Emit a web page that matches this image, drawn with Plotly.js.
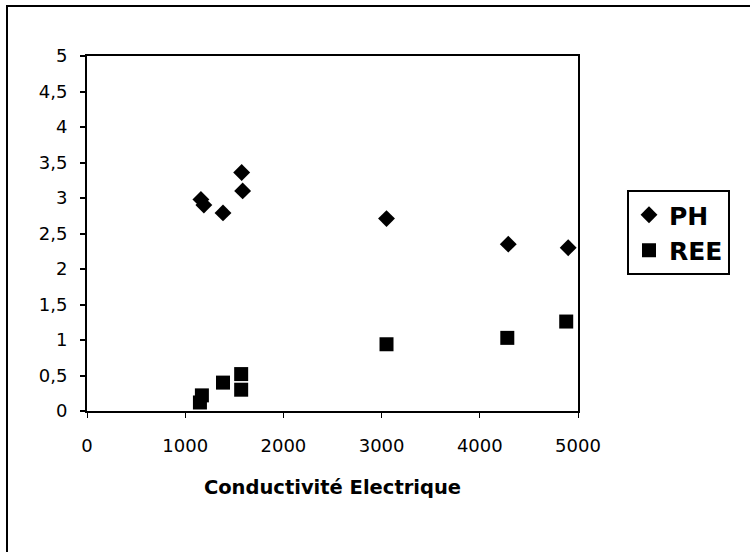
<!DOCTYPE html>
<html>
<head>
<meta charset="utf-8">
<script src="https://cdn.plot.ly/plotly-3.0.1.min.js"></script>
<style>
html,body{margin:0;padding:0;background:#fff;}
#chart{width:750px;height:552px;}
</style>
</head>
<body>
<div id="chart"></div>
<script>
// Data
const phX  = [1160, 1190, 1385, 1575, 1585, 3050, 4290, 4900];
const phY  = [2.98, 2.90, 2.79, 3.36, 3.10, 2.71, 2.35, 2.30];
const reeX = [1150, 1170, 1385, 1570, 1570, 3050, 4280, 4880];
const reeY = [0.12, 0.22, 0.40, 0.52, 0.30, 0.94, 1.03, 1.26];
const seriesNames = ["PH", "REE"];
const xTicks = [0, 1000, 2000, 3000, 4000, 5000];
const yTicks = [0, 0.5, 1, 1.5, 2, 2.5, 3, 3.5, 4, 4.5, 5];

const traces = [
  {x: phX, y: phY, name: seriesNames[0], type: "scatter", mode: "markers", legendgroup: "a",
   marker: {symbol: "diamond", size: 13, color: "#000"}},
  {x: reeX, y: reeY, name: seriesNames[1], type: "scatter", mode: "markers", legendgroup: "b",
   marker: {symbol: "square", size: 14, color: "#000"}}
];

const W = 750, H = 552, L = 87, R = 172, T = 56, B = 141;
const pw = W - L - R, ph = H - T - B;
const px = v => (v - L) / pw;         // pixel -> paper x
const py = v => (H - B - v) / ph;     // pixel -> paper y

const FONT = "DejaVu Sans, sans-serif";

const layout = {
  width: W, height: H,
  margin: {l: L, r: R, t: T, b: B, pad: 0},
  paper_bgcolor: "#fff", plot_bgcolor: "#fff",
  separators: ", ",
  font: {family: FONT, size: 18, color: "#000"},
  showlegend: true,
  legend: {
    x: px(627), y: py(190), xanchor: "left", yanchor: "top",
    bordercolor: "#000", borderwidth: 2, bgcolor: "#fff",
    font: {family: FONT, size: 25, color: "#000", weight: "bold"},
    itemsizing: "trace", traceorder: "grouped", tracegroupgap: 0,
    itemwidth: 30
  },
  xaxis: {
    range: [0, 5000], tickvals: xTicks, ticktext: xTicks.map(String),
    showgrid: false, zeroline: false, showline: true, mirror: true,
    linecolor: "#000", linewidth: 2,
    ticks: "outside", ticklen: 5, tickcolor: "#000", tickwidth: 1,
    ticklabelstandoff: 12,
    tickfont: {size: 18, family: FONT},
    title: {text: "Conductivité Electrique", standoff: 26,
            font: {size: 19.5, family: FONT, weight: "bold"}}
  },
  yaxis: {
    range: [0, 5], tickvals: yTicks, ticktext: yTicks.map(v => String(v).replace(".", ",")),
    showgrid: false, zeroline: false, showline: true, mirror: true,
    linecolor: "#000", linewidth: 2,
    ticks: "outside", ticklen: 5, tickcolor: "#000", tickwidth: 2,
    ticklabelstandoff: 9,
    tickfont: {size: 18, family: FONT}
  },
  shapes: [
    {type: "rect", xref: "paper", yref: "paper",
     x0: px(7), x1: px(760), y0: py(570), y1: py(6),
     line: {color: "#000", width: 2}, fillcolor: "rgba(0,0,0,0)", layer: "below"}
  ]
};

Plotly.newPlot("chart", traces, layout, {displayModeBar: false, staticPlot: true});
</script>
</body>
</html>
